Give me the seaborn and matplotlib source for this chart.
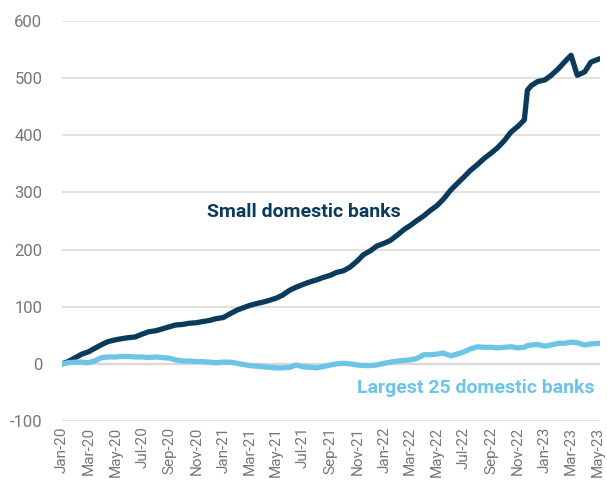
import pandas as pd
import matplotlib.pyplot as plt
import matplotlib.dates as mdates
import seaborn as sns

# data: cumulative change since Jan-2020 (semi-monthly)
dates = [
    "2020-01-01", "2020-01-15", "2020-02-01", "2020-02-15", "2020-03-01", "2020-03-15",
    "2020-04-01", "2020-04-15", "2020-05-01", "2020-05-15", "2020-06-01", "2020-06-15",
    "2020-07-01", "2020-07-15", "2020-08-01", "2020-08-15", "2020-09-01", "2020-09-15",
    "2020-10-01", "2020-10-15", "2020-11-01", "2020-11-15", "2020-12-01", "2020-12-15",
    "2021-01-01", "2021-01-15", "2021-02-01", "2021-02-15", "2021-03-01", "2021-03-15",
    "2021-04-01", "2021-04-15", "2021-05-01", "2021-05-15", "2021-06-01", "2021-06-15",
    "2021-07-01", "2021-07-15", "2021-08-01", "2021-08-15", "2021-09-01", "2021-09-15",
    "2021-10-01", "2021-10-15", "2021-11-01", "2021-11-15", "2021-12-01", "2021-12-15",
    "2022-01-01", "2022-01-15", "2022-02-01", "2022-02-15", "2022-03-01", "2022-03-15",
    "2022-04-01", "2022-04-15", "2022-05-01", "2022-05-15", "2022-06-01", "2022-06-15",
    "2022-07-01", "2022-07-15", "2022-08-01", "2022-08-15", "2022-09-01", "2022-09-15",
    "2022-10-01", "2022-10-15", "2022-11-01", "2022-11-15", "2022-11-22", "2022-12-01",
    "2022-12-15", "2023-01-01", "2023-01-15", "2023-02-01", "2023-02-15", "2023-03-01",
    "2023-03-15", "2023-04-01", "2023-04-15", "2023-05-05",
]
small_banks = [
    0, 4, 11, 17, 21, 27,
    34, 39, 42, 44, 46, 47,
    52, 56, 58, 61, 65, 68,
    69, 71, 72, 74, 76, 79,
    81, 87, 94, 98, 102, 105,
    108, 111, 115, 120, 129, 134,
    139, 143, 147, 151, 155, 160,
    163, 169, 180, 191, 198, 206,
    211, 216, 226, 235, 242, 250,
    259, 268, 277, 288, 304, 315,
    327, 338, 349, 359, 369, 378,
    391, 405, 416, 427, 479, 487,
    494, 497, 505, 517, 529, 540,
    505, 511, 528, 534,
]
large_banks = [
    0, 2, 3, 3, 2, 5,
    11, 12, 12, 13, 13, 12,
    12, 11, 12, 11, 10, 7,
    5, 5, 4, 4, 3, 2,
    3, 3, 1, -1, -3, -4,
    -5, -6, -7, -7, -6, -2,
    -5, -6, -7, -5, -2, 0,
    1, 0, -2, -3, -3, -2,
    1, 3, 5, 6, 7, 9,
    16, 16, 17, 19, 14, 17,
    21, 26, 30, 29, 29, 28,
    29, 30, 28, 29, 32, 33,
    34, 31, 33, 36, 36, 38,
    37, 33, 35, 36,
]
series_names = ["Small domestic banks", "Largest 25 domestic banks"]
colors = ["#0b3b5c", "#6cc4e9"]

df = pd.DataFrame({"date": pd.to_datetime(dates), series_names[0]: small_banks,
                   series_names[1]: large_banks})
long_df = df.melt(id_vars="date", var_name="series", value_name="value")

sns.set_style("white")
plt.rcParams["font.family"] = ["Roboto", "DejaVu Sans"]
plt.rcParams["axes.unicode_minus"] = False

fig = plt.figure(figsize=(6.07, 5.0), dpi=100)
ax = fig.add_axes([0.102, 0.158, 0.886, 0.8])

sns.lineplot(data=long_df, x="date", y="value", hue="series", hue_order=series_names,
             palette=colors, linewidth=3.8, legend=False, ax=ax,
             solid_capstyle="round", solid_joinstyle="round")

ax.set_ylim(-100, 600)
ax.set_yticks(range(-100, 601, 100))
ax.set_xlim(df["date"].min(), df["date"].max())
ax.xaxis.set_major_locator(mdates.MonthLocator(bymonth=[1, 3, 5, 7, 9, 11]))
ax.xaxis.set_major_formatter(mdates.DateFormatter("%b-%y"))
ax.grid(axis="y", color="#dcdcdc", linewidth=1.2)
ax.set_axisbelow(True)
ax.axhline(0, color="#c8c8c8", linewidth=1.6, zorder=0)
for s in ax.spines.values():
    s.set_visible(False)
ax.tick_params(axis="both", length=0, colors="#777777")
ax.tick_params(axis="x", rotation=90, pad=4, labelsize=11)
ax.tick_params(axis="y", pad=14, labelsize=12)
ax.set_xlabel("")
ax.set_ylabel("")

ax.text(0.45, 0.523, series_names[0], transform=ax.transAxes, ha="center", va="center",
        color=colors[0], fontsize=14, fontweight="bold")
ax.text(0.991, 0.083, series_names[1], transform=ax.transAxes, ha="right", va="center",
        color=colors[1], fontsize=14, fontweight="bold")

fig.savefig("out.png", dpi=100)
